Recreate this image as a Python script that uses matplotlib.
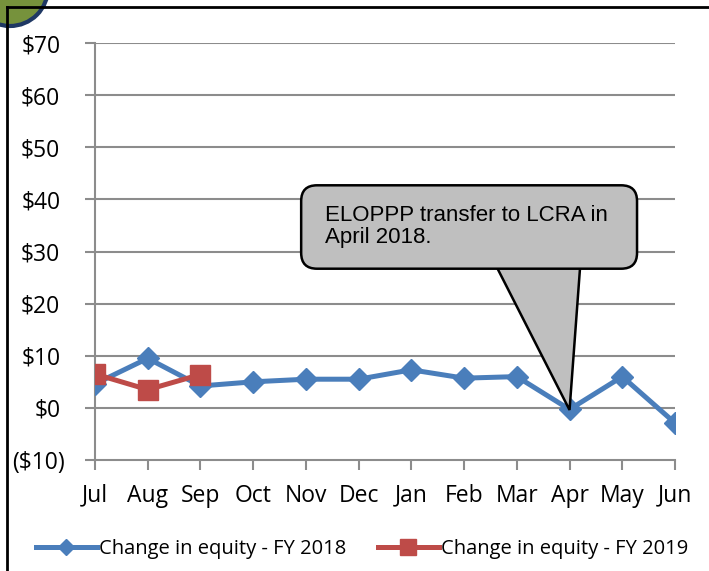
import numpy as np
import matplotlib.pyplot as plt
import matplotlib.transforms as mtransforms
from matplotlib.patches import FancyBboxPatch, Polygon, Circle
from matplotlib.lines import Line2D

months = ["Jul", "Aug", "Sep", "Oct", "Nov", "Dec", "Jan", "Feb", "Mar", "Apr", "May", "Jun"]
fy2018 = [4.6, 9.5, 4.2, 5.0, 5.5, 5.5, 7.3, 5.7, 6.0, -0.3, 6.0, -2.9]
fy2019 = [6.5, 3.5, 6.4]
ytick_vals = [-10, 0, 10, 20, 30, 40, 50, 60, 70]
ytick_labels = ["($10)", "$0", "$10", "$20", "$30", "$40", "$50", "$60", "$70"]
note = "ELOPPP transfer to LCRA in\nApril 2018."

blue = "#4A7EBB"
red = "#BE4B48"
grid = "#8C8C8C"
font = "Open Sans"

fig = plt.figure(figsize=(7.09, 5.71), dpi=100)
W, H = 709, 571
ax = fig.add_axes([95 / W, 1 - 460 / H, 580 / W, 417 / H])

x = np.arange(len(months))
ax.plot(x, fy2018, color=blue, lw=3.6, marker="D", ms=11.5, zorder=3,
        label="Change in equity - FY 2018")
ax.plot(x[:len(fy2019)], fy2019, color=red, lw=3.6, marker="s", ms=14.5, zorder=4,
        label="Change in equity - FY 2019")

ax.set_xlim(0, 11)
ax.set_ylim(-10, 70)
ax.set_yticks(ytick_vals)
ax.set_yticklabels(ytick_labels, family=font, fontsize=16.5)
ax.set_xticks(x)
ax.set_xticklabels(months, family=font, fontsize=16.5)
for v in ytick_vals[1:]:
    ax.axhline(v, color=grid, lw=1.5, zorder=1)

for s in ["top", "right"]:
    ax.spines[s].set_visible(False)
for s in ["left", "bottom"]:
    ax.spines[s].set_color(grid)
    ax.spines[s].set_linewidth(1.5)
ax.tick_params(axis="both", colors=grid, width=1.5, labelcolor="black", length=7)
ax.tick_params(axis="y", pad=18)
ax.tick_params(axis="x", pad=10)
# accounting format: the closing parenthesis hangs past the other labels
neg = ax.get_yticklabels()[0]
neg.set_transform(neg.get_transform() +
                  mtransforms.ScaledTranslation(5 / 100, 0, fig.dpi_scale_trans))

# callout
poly = Polygon([[7.62, 27.0], [9.0, -0.4], [9.2, 27.0]], closed=True,
               facecolor="#BFBFBF", edgecolor="black", lw=1.8, zorder=5)
ax.add_patch(poly)
box = FancyBboxPatch((3.91, 26.7), 6.37, 16.0,
                     boxstyle="round,pad=0,rounding_size=0.3",
                     mutation_aspect=10.1,
                     facecolor="#BFBFBF", edgecolor="black", lw=1.8, zorder=6)
ax.add_patch(box)
# hide the pointer's top edge inside the box
ax.add_patch(Polygon([[7.66, 26.95], [9.16, 26.95], [9.16, 27.8], [7.66, 27.8]],
                     facecolor="#BFBFBF", edgecolor="none", zorder=7))
ax.text(4.36, 38.9, note, fontsize=16, family="Liberation Sans", va="top",
        ha="left", zorder=8, linespacing=1.05)

ax.legend(loc="center", ncol=2, frameon=False, markerscale=0.75,
          prop={"family": font, "size": 14.5}, handlelength=3.0,
          handletextpad=0.1, columnspacing=1.6)
ax.get_legend().set_bbox_to_anchor((362 / W, 1 - 549 / H), transform=fig.transFigure)

# outer frame and badge
fig.add_artist(Line2D([7 / W, 7 / W], [0, 1 - 7 / H], color="black", lw=2,
                      transform=fig.transFigure))
fig.add_artist(Line2D([7 / W, 1], [1 - 7 / H, 1 - 7 / H], color="black", lw=2,
                      transform=fig.transFigure))
badge = Circle((10, H + 12), 38, transform=None, facecolor="#76923C",
               edgecolor="#1F3864", lw=3)
fig.add_artist(badge)

fig.savefig("out.png", dpi=100)
